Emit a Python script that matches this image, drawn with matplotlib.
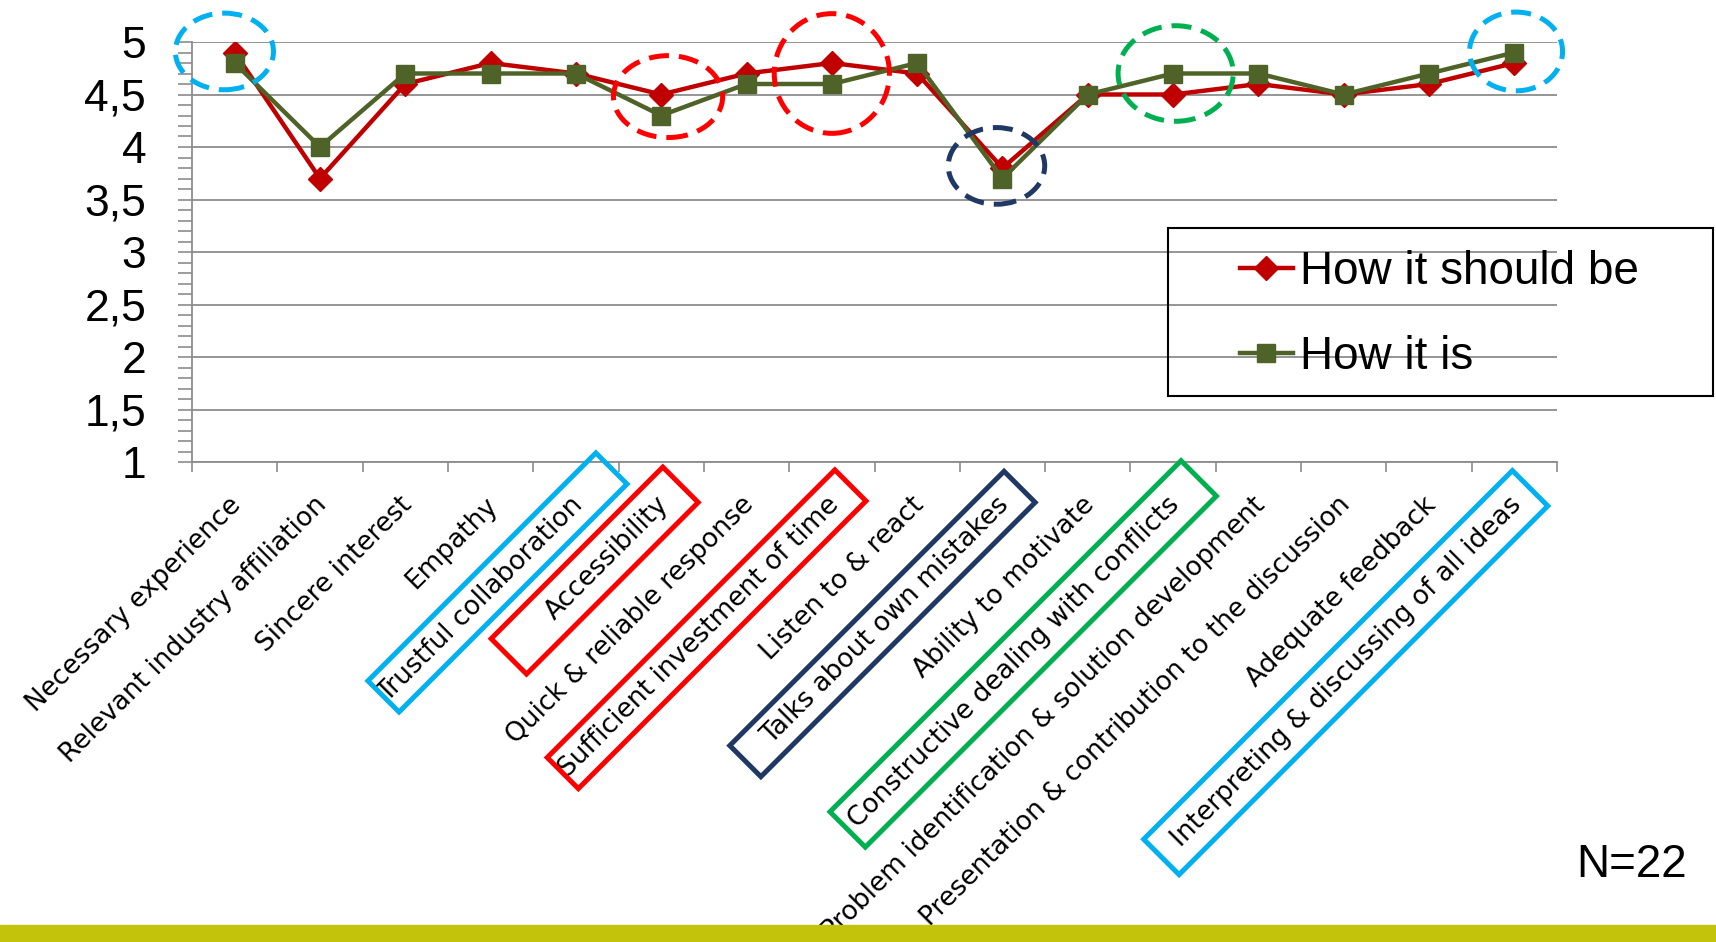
import numpy as np
import matplotlib.pyplot as plt
from matplotlib.patches import Ellipse, Polygon, Rectangle
from matplotlib.lines import Line2D
from matplotlib.transforms import blended_transform_factory, offset_copy

# Kriterien und Bewertungen (Mittelwerte, N=22)
categories = [
    "Necessary experience",
    "Relevant industry affiliation",
    "Sincere interest",
    "Empathy",
    "Trustful collaboration",
    "Accessibility",
    "Quick & reliable response",
    "Sufficient investment of time",
    "Listen to & react",
    "Talks about own mistakes",
    "Ability to motivate",
    "Constructive dealing with conflicts",
    "Problem identification & solution development",
    "Presentation & contribution to the discussion",
    "Adequate feedback",
    "Interpreting & discussing of all ideas",
]
should_be = [4.9, 3.7, 4.6, 4.8, 4.7, 4.5, 4.7, 4.8, 4.7, 3.8, 4.5, 4.5, 4.6, 4.5, 4.6, 4.8]
is_now = [4.8, 4.0, 4.7, 4.7, 4.7, 4.3, 4.6, 4.6, 4.8, 3.7, 4.5, 4.7, 4.7, 4.5, 4.7, 4.9]
series_names = ["How it should be", "How it is"]
y_ticks = [1, 1.5, 2, 2.5, 3, 3.5, 4, 4.5, 5]
y_ticklabels = ["1", "1,5", "2", "2,5", "3", "3,5", "4", "4,5", "5"]
sample_note = "N=22"

RED = "#c00000"
OLIVE = "#4f6228"
GRID = "#8c8c8c"

# Markierungen: Index, Farbe, Ellipse (dx, y, Breite, Hoehe), Rahmen (Pad unten, Pad oben)
marks = [
    (0, "#00b0f0", (-0.12, 4.91, 1.15, 0.73), None),
    (4, "#00b0f0", None, (-2, 46)),
    (5, "#ff0000", (0.08, 4.48, 1.28, 0.78), (57, 23)),
    (7, "#ff0000", (0.0, 4.70, 1.35, 1.14), (0, 22)),
    (9, "#1f3864", (-0.07, 3.82, 1.13, 0.73), (30, 20)),
    (11, "#00b050", (0.03, 4.70, 1.35, 0.91), (8, 32)),
    (15, "#00b0f0", (0.02, 4.91, 1.09, 0.75), (20, 18)),
]

fig = plt.figure(figsize=(17.16, 9.42), dpi=100)
ax = fig.add_axes([192 / 1716, 1 - 462 / 942, (1557 - 192) / 1716, (462 - 42) / 942])

x = np.arange(len(categories))
ax.plot(x, should_be, color=RED, lw=3.2, marker="D", ms=12, zorder=4)
ax.plot(x, is_now, color=OLIVE, lw=3.2, marker="s", ms=13, zorder=5)

ax.set_xlim(-0.5, len(categories) - 0.5)
ax.set_ylim(1, 5)
ax.set_yticks(y_ticks)
ax.set_yticklabels(y_ticklabels, fontfamily="Liberation Sans", fontsize=32)
ax.set_yticks(np.arange(1, 5.01, 0.1), minor=True)
ax.set_xticks(np.arange(-0.5, len(categories), 1.0))
ax.set_xticklabels([])
ax.tick_params(axis="y", which="both", length=10, width=1.2, color=GRID, pad=23)
ax.tick_params(axis="x", which="major", length=7, width=1.2, color=GRID)
ax.grid(axis="y", which="major", color=GRID, lw=1.3)
for side in ("top", "right"):
    ax.spines[side].set_visible(False)
for side in ("left", "bottom"):
    ax.spines[side].set_color(GRID)
    ax.spines[side].set_linewidth(1.3)

# Kategorienbeschriftung, 45 Grad gedreht
label_tf = offset_copy(blended_transform_factory(ax.transData, ax.transAxes),
                       fig=fig, x=3, y=-39, units="dots")
texts = []
for i, name in enumerate(categories):
    t = ax.text(i, 0, name, transform=label_tf, rotation=45, rotation_mode="anchor",
                ha="right", va="center", fontsize=19, fontfamily="DejaVu Sans")
    texts.append(t)

# gestrichelte Kreise um auffaellige Werte
for idx, color, ell, _ in marks:
    if ell is None:
        continue
    dx, yc, w, h = ell
    ax.add_patch(Ellipse((idx + dx, yc), w, h, fill=False, ec=color, lw=3.6,
                         ls=(0, (4, 2)), clip_on=False, zorder=6))

# Rahmen um die Beschriftungen
fig.canvas.draw()
renderer = fig.canvas.get_renderer()
to_fig = fig.transFigure.inverted()
u = np.array([np.cos(np.pi / 4), np.sin(np.pi / 4)])
v = np.array([-np.sin(np.pi / 4), np.cos(np.pi / 4)])
for idx, color, _, pads in marks:
    if pads is None:
        continue
    t = texts[idx]
    w, h, _d = renderer.get_text_width_height_descent(t.get_text(), t.get_fontproperties(), ismath=False)
    anchor = t.get_transform().transform(t.get_position())
    half = h / 2 + 12
    lo, hi = -w - pads[0], pads[1]
    pts = [anchor + lo * u - half * v, anchor + hi * u - half * v,
           anchor + hi * u + half * v, anchor + lo * u + half * v]
    fig.patches.append(Polygon(to_fig.transform(pts), closed=True, fill=False, ec=color,
                               lw=3.6, joinstyle="miter", transform=fig.transFigure, figure=fig))

# Legende mit eigenem Rahmen
handles = [Line2D([], [], color=RED, lw=3.2, marker="D", ms=12),
           Line2D([], [], color=OLIVE, lw=3.2, marker="s", ms=13)]
fig.legend(handles, series_names, loc="upper left", bbox_to_anchor=(1240 / 1716, 1 - 250 / 942),
           frameon=False, prop={"family": "Liberation Sans", "size": 33}, handlelength=1.15,
           handletextpad=0.15, labelspacing=0.9, borderpad=0, borderaxespad=0)
fig.patches.append(Rectangle((1168 / 1716, 1 - 396 / 942), (1713 - 1168) / 1716, (396 - 228) / 942,
                             fill=False, ec="black", lw=1.5, transform=fig.transFigure, figure=fig))

fig.text(1687 / 1716, 1 - 865 / 942, sample_note, ha="right", va="center",
         fontsize=33, fontfamily="Liberation Sans")

# Farbbalken am unteren Rand
fig.patches.append(Rectangle((0, 0), 1, 17 / 942, color="#c3c30b", transform=fig.transFigure,
                             figure=fig, zorder=0))

fig.savefig("out.png", dpi=100)
